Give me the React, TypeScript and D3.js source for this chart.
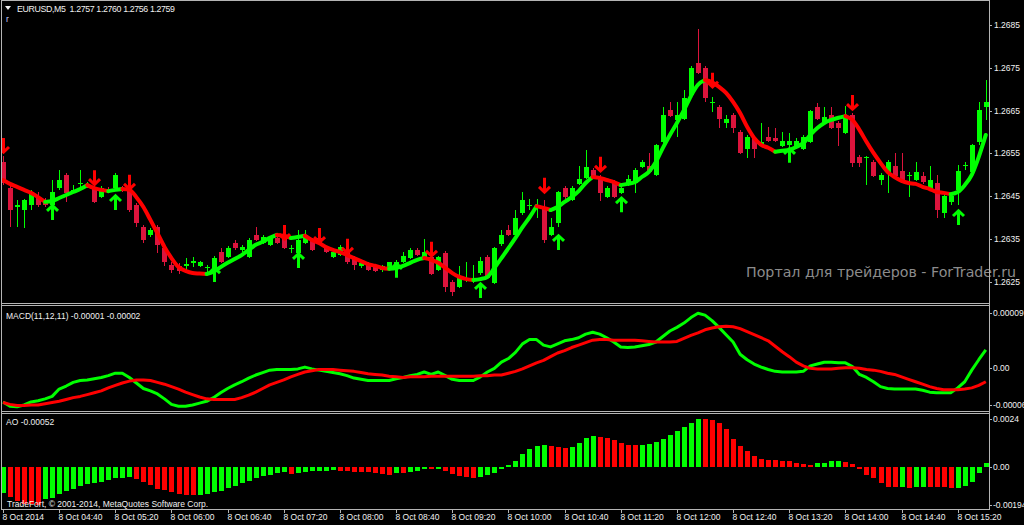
import React from 'react';
import * as d3 from 'd3';

// ---------- DATA (EURUSD M5, 8 Oct 2014, bars 04:00 .. 15:40) ----------
const OPEN = [1.26530,1.26469,1.26425,1.26418,1.26430,1.26448,1.26441,1.26430,1.26469,1.26500,
1.26460,1.26479,1.26474,1.26472,1.26448,1.26467,1.26469,1.26469,1.26469,1.26430,
1.26378,1.26360,1.26378,1.26329,1.26290,1.26288,1.26288,1.26295,1.26288,1.26284,
1.26274,1.26320,1.26309,1.26341,1.26325,1.26309,1.26360,1.26341,1.26337,1.26353,
1.26355,1.26328,1.26318,1.26341,1.26348,1.26353,1.26329,1.26309,1.26313,1.26320,
1.26306,1.26288,1.26290,1.26288,1.26278,1.26278,1.26283,1.26297,1.26306,1.26325,
1.26306,1.26309,1.26278,1.26318,1.26250,1.26239,1.26259,1.26257,1.26271,1.26309,
1.26248,1.26339,1.26371,1.26360,1.26411,1.26429,1.26429,1.26423,1.26360,1.26388,
1.26469,1.26441,1.26479,1.26493,1.26511,1.26495,1.26448,1.26483,1.26458,1.26476,
1.26481,1.26518,1.26521,1.26500,1.26577,1.26651,1.26628,1.26630,1.26686,1.26761,
1.26749,1.26669,1.26658,1.26621,1.26640,1.26600,1.26560,1.26586,1.26567,1.26588,
1.26586,1.26567,1.26570,1.26567,1.26560,1.26577,1.26658,1.26623,1.26640,1.26621,
1.26598,1.26640,1.26542,1.26539,1.26530,1.26488,1.26507,1.26521,1.26509,1.26499,
1.26488,1.26497,1.26467,1.26481,1.26411,1.26437,1.26465,1.26522,1.26507,1.26577,
1.26658];
const HIGH = [1.26544,1.26476,1.26441,1.26444,1.26465,1.26460,1.26446,1.26488,1.26511,1.26504,
1.26476,1.26511,1.26483,1.26481,1.26474,1.26472,1.26504,1.26474,1.26476,1.26434,
1.26383,1.26376,1.26383,1.26334,1.26297,1.26295,1.26306,1.26309,1.26299,1.26290,
1.26311,1.26329,1.26334,1.26348,1.26337,1.26353,1.26378,1.26360,1.26358,1.26358,
1.26360,1.26337,1.26371,1.26371,1.26353,1.26358,1.26334,1.26322,1.26337,1.26325,
1.26311,1.26302,1.26297,1.26292,1.26290,1.26297,1.26302,1.26320,1.26329,1.26329,
1.26351,1.26313,1.26311,1.26322,1.26255,1.26288,1.26297,1.26290,1.26309,1.26313,
1.26332,1.26371,1.26383,1.26418,1.26460,1.26444,1.26444,1.26441,1.26399,1.26462,
1.26474,1.26474,1.26521,1.26558,1.26516,1.26500,1.26474,1.26488,1.26474,1.26500,
1.26516,1.26535,1.26551,1.26572,1.26658,1.26670,1.26670,1.26698,1.26754,1.26840,
1.26754,1.26681,1.26663,1.26640,1.26644,1.26605,1.26593,1.26591,1.26621,1.26612,
1.26609,1.26600,1.26598,1.26586,1.26593,1.26651,1.26668,1.26658,1.26658,1.26625,
1.26661,1.26644,1.26546,1.26544,1.26535,1.26504,1.26535,1.26551,1.26551,1.26507,
1.26530,1.26507,1.26521,1.26500,1.26453,1.26460,1.26523,1.26530,1.26572,1.26670,
1.26721];
const LOW = [1.26476,1.26378,1.26378,1.26376,1.26418,1.26425,1.26425,1.26413,1.26465,1.26437,
1.26458,1.26472,1.26469,1.26434,1.26446,1.26460,1.26465,1.26460,1.26413,1.26378,
1.26341,1.26355,1.26318,1.26288,1.26271,1.26269,1.26278,1.26285,1.26285,1.26271,
1.26267,1.26295,1.26306,1.26325,1.26320,1.26306,1.26346,1.26339,1.26334,1.26339,
1.26327,1.26318,1.26316,1.26339,1.26322,1.26337,1.26318,1.26306,1.26311,1.26292,
1.26278,1.26283,1.26276,1.26274,1.26274,1.26276,1.26278,1.26295,1.26304,1.26311,
1.26302,1.26267,1.26276,1.26227,1.26218,1.26236,1.26250,1.26248,1.26267,1.26257,
1.26246,1.26334,1.26358,1.26358,1.26406,1.26418,1.26399,1.26341,1.26358,1.26378,
1.26434,1.26439,1.26476,1.26490,1.26493,1.26439,1.26446,1.26446,1.26455,1.26474,
1.26458,1.26516,1.26504,1.26497,1.26574,1.26635,1.26588,1.26628,1.26684,1.26735,
1.26670,1.26647,1.26609,1.26609,1.26598,1.26549,1.26539,1.26539,1.26565,1.26577,
1.26577,1.26565,1.26563,1.26563,1.26558,1.26574,1.26628,1.26621,1.26607,1.26567,
1.26595,1.26518,1.26518,1.26476,1.26495,1.26476,1.26458,1.26495,1.26481,1.26448,
1.26486,1.26479,1.26465,1.26399,1.26399,1.26430,1.26430,1.26511,1.26504,1.26570,
1.26628];
const CLOSE = [1.26481,1.26418,1.26430,1.26441,1.26460,1.26430,1.26430,1.26460,1.26488,1.26458,
1.26465,1.26481,1.26479,1.26437,1.26469,1.26462,1.26500,1.26465,1.26418,1.26388,
1.26348,1.26371,1.26337,1.26297,1.26278,1.26276,1.26292,1.26299,1.26297,1.26285,
1.26306,1.26297,1.26329,1.26329,1.26332,1.26348,1.26348,1.26355,1.26355,1.26341,
1.26329,1.26329,1.26348,1.26360,1.26325,1.26341,1.26320,1.26320,1.26332,1.26297,
1.26290,1.26295,1.26278,1.26276,1.26288,1.26297,1.26297,1.26311,1.26325,1.26313,
1.26320,1.26269,1.26309,1.26239,1.26227,1.26260,1.26260,1.26260,1.26299,1.26260,
1.26329,1.26360,1.26360,1.26399,1.26441,1.26430,1.26430,1.26348,1.26378,1.26460,
1.26448,1.26469,1.26490,1.26518,1.26495,1.26458,1.26469,1.26448,1.26469,1.26490,
1.26511,1.26530,1.26507,1.26570,1.26640,1.26637,1.26640,1.26679,1.26749,1.26737,
1.26679,1.26670,1.26630,1.26630,1.26609,1.26551,1.26588,1.26560,1.26577,1.26579,
1.26579,1.26579,1.26579,1.26579,1.26588,1.26649,1.26630,1.26635,1.26609,1.26609,
1.26640,1.26528,1.26528,1.26542,1.26497,1.26500,1.26530,1.26497,1.26483,1.26500,
1.26507,1.26483,1.26488,1.26418,1.26451,1.26451,1.26509,1.26523,1.26570,1.26651,
1.26670];
// trend moving average (colored by direction)
const TREND_MA = [1.26488,1.26479,1.26472,1.26465,1.26458,1.26448,1.26437,1.26439,1.26446,1.26453,
1.26460,1.26467,1.26476,1.26469,1.26465,1.26462,1.26465,1.26467,1.26465,1.26448,
1.26425,1.26395,1.26364,1.26332,1.26306,1.26285,1.26276,1.26271,1.26270,1.26269,
1.26274,1.26285,1.26295,1.26304,1.26313,1.26325,1.26337,1.26344,1.26353,1.26360,
1.26358,1.26353,1.26355,1.26358,1.26348,1.26341,1.26332,1.26325,1.26320,1.26313,
1.26306,1.26299,1.26292,1.26288,1.26283,1.26281,1.26283,1.26288,1.26295,1.26302,
1.26306,1.26302,1.26295,1.26283,1.26271,1.26262,1.26257,1.26255,1.26257,1.26262,
1.26283,1.26306,1.26329,1.26353,1.26378,1.26401,1.26427,1.26423,1.26418,1.26425,
1.26437,1.26448,1.26462,1.26481,1.26495,1.26493,1.26488,1.26483,1.26476,1.26479,
1.26483,1.26495,1.26507,1.26530,1.26563,1.26593,1.26621,1.26651,1.26684,1.26710,
1.26721,1.26716,1.26705,1.26691,1.26670,1.26644,1.26612,1.26586,1.26570,1.26563,
1.26554,1.26556,1.26558,1.26565,1.26574,1.26593,1.26609,1.26621,1.26628,1.26633,
1.26637,1.26628,1.26605,1.26577,1.26551,1.26528,1.26507,1.26495,1.26486,1.26481,
1.26479,1.26472,1.26467,1.26460,1.26458,1.26455,1.26460,1.26476,1.26500,1.26542,
1.26593];
const DOWN_ARROW_BARS = [0, 13, 18, 40, 45, 49, 61, 77, 85, 101, 121];
const DOWN_ARROW_PRICES = [1.26551, 1.26476, 1.26465, 1.26348, 1.26341, 1.26316, 1.26309, 1.26458, 1.26507, 1.26703, 1.26651];
const UP_ARROW_BARS = [7, 16, 30, 42, 56, 68, 79, 88, 112, 136];
const UP_ARROW_PRICES = [1.26430, 1.26453, 1.26285, 1.26318, 1.26295, 1.26248, 1.26360, 1.26448, 1.26563, 1.26418];

// MACD(11,12,11), values in units of 0.00001
const MACD_UNIT = 0.00001;
const MACD_MAIN = [-5.5,-6.2,-6.3,-6.0,-5.5,-5.3,-5.0,-4.6,-3.4,-2.9,
-2.3,-2.0,-1.9,-1.7,-1.5,-1.2,-0.8,-0.8,-1.5,-2.4,
-3.3,-3.7,-4.2,-5.0,-5.9,-6.2,-6.2,-6.0,-5.7,-5.4,
-4.8,-4.0,-3.3,-2.7,-2.2,-1.6,-1.1,-0.7,-0.3,-0.2,
-0.2,-0.2,-0.1,0.2,-0.1,-0.3,-0.5,-0.7,-0.9,-1.2,
-1.6,-1.8,-2.0,-2.0,-2.0,-2.0,-1.7,-1.5,-1.2,-1.0,
-0.6,-1.0,-0.6,-1.2,-1.8,-2.0,-2.0,-2.0,-1.4,-0.6,
0,1.0,1.6,2.6,4.0,4.7,4.7,3.8,3.5,4.0,
4.5,4.7,5.0,5.6,5.9,5.6,5.0,4.3,3.5,3.4,
3.5,3.7,3.9,4.3,5.2,6.1,6.7,7.4,8.3,9.0,
8.7,7.8,6.7,5.5,4.3,2.3,1.4,0.7,0.2,-0.2,
-0.5,-0.6,-0.6,-0.6,-0.5,0.4,0.7,1.0,1.0,0.9,
0.9,0.3,-1.0,-1.5,-2.2,-3.0,-3.3,-3.4,-3.4,-3.4,
-3.4,-3.6,-3.9,-4.0,-4.0,-4.0,-3.2,-2.2,-0.3,1.4,
3.0];
const MACD_SIGNAL = [-5.6,-5.9,-6.1,-6.1,-6.0,-6.0,-5.8,-5.6,-5.4,-5.1,
-4.8,-4.6,-4.3,-4.0,-3.7,-3.2,-2.8,-2.4,-2.1,-1.9,
-1.9,-2.0,-2.3,-2.6,-3.0,-3.4,-3.9,-4.3,-4.7,-5.0,
-5.1,-5.1,-5.1,-5.1,-4.8,-4.4,-3.9,-3.3,-2.7,-2.3,
-1.9,-1.4,-1.0,-0.6,-0.4,-0.2,-0.2,-0.2,-0.3,-0.4,
-0.5,-0.7,-0.9,-1.0,-1.1,-1.3,-1.4,-1.5,-1.4,-1.4,
-1.4,-1.3,-1.3,-1.3,-1.3,-1.3,-1.3,-1.3,-1.2,-1.2,
-1.1,-1.1,-0.8,-0.5,-0.1,0.4,0.9,1.3,1.9,2.5,
2.9,3.4,3.8,4.2,4.6,4.7,4.7,4.6,4.6,4.6,
4.6,4.5,4.4,4.3,4.3,4.3,4.4,4.9,5.4,5.8,
6.3,6.6,6.8,6.9,6.8,6.5,6.0,5.5,5.0,4.5,
3.6,2.7,1.9,1.0,0.4,0,-0.1,-0.1,-0.1,0,
0.1,0.1,0,-0.2,-0.3,-0.5,-0.8,-1.0,-1.4,-1.8,
-2.2,-2.6,-3.0,-3.3,-3.5,-3.5,-3.5,-3.4,-3.2,-2.8,
-2.2];

// Awesome Oscillator, values in units of 0.0001
const AO_UNIT = 0.0001;
const AO_VALUES = [-13.0,-15.1,-17.5,-18.8,-18.8,-19.4,-16.0,-15.6,-13.5,-12.4,
-11.1,-9.9,-8.7,-8.3,-7.6,-6.7,-5.9,-5.6,-5.1,-6.4,
-7.6,-9.2,-11.1,-11.6,-12.7,-13.5,-14.0,-14.3,-14.2,-13.5,
-12.7,-12.0,-10.6,-9.5,-8.3,-7.1,-5.6,-4.5,-4.0,-3.2,
-2.9,-3.5,-3.2,-2.7,-2.4,-2.2,-2.1,-1.6,-2.1,-2.4,
-2.5,-2.7,-2.9,-3.2,-3.5,-4.0,-3.2,-3.35,-2.5,-2.2,
-1.34,-1.4,-1.3,-2.0,-3.7,-4.5,-5.4,-5.9,-5.4,-4.4,
-3.35,-1.34,0.67,3.0,6.2,8.7,10.4,11.1,10.6,10.1,
9.5,10.1,11.7,14.4,15.4,14.9,14.4,13.4,11.9,10.9,
10.8,10.9,11.4,12.2,13.9,16.2,17.9,19.8,21.8,24.1,
23.8,23.7,21.8,18.8,13.9,10.6,7.7,5.5,3.9,3.35,
3.3,2.85,2.8,2.0,1.2,0.67,1.7,2.0,2.85,2.9,
2.3,1.2,-1.34,-4.2,-5.9,-8.4,-10.1,-10.4,-10.3,-10.6,
-10.1,-10.0,-10.1,-10.2,-10.4,-10.6,-10.5,-9.7,-7.5,-3.35,
2.0];

const PRICE_TICKS = [1.2685, 1.2675, 1.2665, 1.2655, 1.2645, 1.2635, 1.2625];
const MACD_TICKS = [0.00009, 0, -0.00006];
const MACD_TICK_LABELS = ['0.00009', '0.00', '-0.00006'];
const AO_TICKS = [0.0024, 0, -0.00194];
const AO_TICK_LABELS = ['0.0024', '0.00', '-0.00194'];
const TIME_TICK_BARS = [0, 8, 16, 24, 32, 40, 48, 56, 64, 72, 80, 88, 96, 104, 112, 120, 128, 136];
const TIME_TICK_LABELS = ['8 Oct 2014', '8 Oct 04:40', '8 Oct 05:20', '8 Oct 06:00', '8 Oct 06:40', '8 Oct 07:20',
  '8 Oct 08:00', '8 Oct 08:40', '8 Oct 09:20', '8 Oct 10:00', '8 Oct 10:40', '8 Oct 11:20', '8 Oct 12:00',
  '8 Oct 12:40', '8 Oct 13:20', '8 Oct 14:00', '8 Oct 14:40', '8 Oct 15:20'];

const HEADER = 'EURUSD,M5  1.2757 1.2760 1.2756 1.2759';
const MACD_LABEL = 'MACD(11,12,11) -0.00001 -0.00002';
const AO_LABEL = 'AO -0.00052';
const COPYRIGHT = 'TradeFort, © 2001-2014, MetaQuotes Software Corp.';
const WATERMARK = 'Портал для трейдеров - ForTrader.ru';

const GREEN = '#00ff00';
const RED = '#ff0000';
const BEAR = '#dc143c';
const FRAME = '#b4b4b4';
const TEXT = '#f0f0f0';
const FONT = '"Liberation Sans", Arial, sans-serif';

export default function App() {
  const W = 1024, H = 525;
  const AXIS_X = 989;
  const n = CLOSE.length;
  const x = d3.scaleLinear().domain([0, n - 1]).range([3, 3 + (n - 1) * 7.02]);
  const yP = d3.scaleLinear().domain([1.2625, 1.2685]).range([282.1, 24.7]);
  const yM = d3.scaleLinear().domain([0, 0.00009]).range([368.3, 313.3]);
  const yA = d3.scaleLinear().domain([0, 0.0024]).range([466.7, 419]);

  // trend MA colored runs
  const maColor = TREND_MA.map((v, i) => (i === 0 ? RED : v >= TREND_MA[i - 1] ? GREEN : RED));
  const runs: { color: string; idx: number[] }[] = [];
  for (let i = 1; i < n; i++) {
    const c = maColor[i];
    const last = runs[runs.length - 1];
    if (last && last.color === c) last.idx.push(i);
    else runs.push({ color: c, idx: [i - 1, i] });
  }
  const maLine = d3.line<number>().x(i => x(i)).y(i => yP(TREND_MA[i])).curve(d3.curveMonotoneX);

  const macdLine = (arr: number[]) =>
    d3.line<number>().x((_, i) => x(i)).y(v => yM(v * MACD_UNIT))(arr) || '';

  const upArrow = (cx: number, tip: number) =>
    `M${cx},${tip + 15}L${cx},${tip + 1}M${cx - 5.5},${tip + 6}L${cx},${tip + 0.8}L${cx + 5.5},${tip + 6}`;
  const downArrow = (cx: number, tip: number) =>
    `M${cx},${tip - 15}L${cx},${tip - 1}M${cx - 5.5},${tip - 6}L${cx},${tip - 0.8}L${cx + 5.5},${tip - 6}`;

  const bars = d3.range(n);

  return (
    <div style={{ position: 'absolute', left: 0, top: 0, width: W, height: H, background: '#000' }}>
      <svg width={W} height={H} style={{ display: 'block', background: '#000' }} fontFamily={FONT}>
        <defs>
          <clipPath id="clipMain"><rect x={2} y={1} width={AXIS_X - 2} height={302} /></clipPath>
          <clipPath id="clipMacd"><rect x={2} y={306} width={AXIS_X - 2} height={105} /></clipPath>
          <clipPath id="clipAo"><rect x={2} y={414} width={AXIS_X - 2} height={95} /></clipPath>
        </defs>

        {/* watermark */}
        <text x={746} y={277} fontSize={14.5} fill="#8c8c8c" textLength={270} lengthAdjust="spacingAndGlyphs"
          fontFamily='"DejaVu Sans", sans-serif'>{WATERMARK}</text>

        {/* main panel */}
        <g clipPath="url(#clipMain)">
          {bars.map(i => {
            const bull = CLOSE[i] >= OPEN[i];
            const col = bull ? GREEN : BEAR;
            const cx = Math.round(x(i));
            const yo = yP(OPEN[i]), yc = yP(CLOSE[i]);
            const top = Math.min(yo, yc);
            const h = Math.max(1, Math.abs(yo - yc));
            return (
              <g key={'c' + i} shapeRendering="crispEdges">
                <line x1={cx + 0.5} x2={cx + 0.5} y1={yP(HIGH[i])} y2={yP(LOW[i])} stroke={col} strokeWidth={1} />
                <rect x={cx - 2} y={top} width={5} height={h} fill={col} />
              </g>
            );
          })}
          {runs.map((r, k) => (
            <path key={'ma' + k} d={maLine(r.idx) || ''} fill="none" stroke={r.color} strokeWidth={4}
              strokeLinejoin="round" strokeLinecap="round" />
          ))}
          {UP_ARROW_BARS.map((b, k) => (
            <path key={'ua' + k} d={upArrow(Math.round(x(b)) + 0.5, yP(UP_ARROW_PRICES[k]))} fill="none"
              stroke={GREEN} strokeWidth={3} />
          ))}
          {DOWN_ARROW_BARS.map((b, k) => (
            <path key={'da' + k} d={downArrow(Math.round(x(b)) + 0.5, yP(DOWN_ARROW_PRICES[k]))} fill="none"
              stroke={RED} strokeWidth={3} />
          ))}
        </g>

        {/* MACD panel */}
        <g clipPath="url(#clipMacd)">
          <path d={macdLine(MACD_MAIN)} fill="none" stroke={GREEN} strokeWidth={3} strokeLinejoin="round" />
          <path d={macdLine(MACD_SIGNAL)} fill="none" stroke={RED} strokeWidth={3} strokeLinejoin="round" />
        </g>

        {/* AO panel */}
        <g clipPath="url(#clipAo)" shapeRendering="crispEdges">
          {AO_VALUES.map((v, i) => {
            const up = i === 0 || v > AO_VALUES[i - 1];
            const y0 = yA(0), y1 = yA(v * AO_UNIT);
            return (
              <rect key={'ao' + i} x={Math.round(x(i)) - 2} y={Math.min(y0, y1)} width={5}
                height={Math.max(1, Math.abs(y1 - y0))} fill={up ? GREEN : RED} />
            );
          })}
        </g>

        {/* frames */}
        <g stroke={FRAME} strokeWidth={1} shapeRendering="crispEdges" fill="none">
          <line x1={2} x2={AXIS_X} y1={0.5} y2={0.5} />
          <line x1={1.5} x2={1.5} y1={0} y2={510} />
          <line x1={AXIS_X + 0.5} x2={AXIS_X + 0.5} y1={0} y2={510} />
          <line x1={2} x2={AXIS_X} y1={303.5} y2={303.5} />
          <line x1={2} x2={AXIS_X} y1={305.5} y2={305.5} />
          <line x1={2} x2={AXIS_X} y1={411.5} y2={411.5} />
          <line x1={2} x2={AXIS_X} y1={413.5} y2={413.5} />
          <line x1={2} x2={AXIS_X} y1={509.5} y2={509.5} />
        </g>

        {/* price axis */}
        {PRICE_TICKS.map((v, k) => (
          <g key={'pt' + k}>
            <line x1={AXIS_X} x2={AXIS_X + 3} y1={Math.round(yP(v)) + 0.5} y2={Math.round(yP(v)) + 0.5} stroke={FRAME} />
            <text x={994} y={yP(v) + 3} fontSize={8.5} fill={TEXT}>{v.toFixed(4)}</text>
          </g>
        ))}
        {MACD_TICKS.map((v, k) => (
          <g key={'mt' + k}>
            <line x1={AXIS_X} x2={AXIS_X + 3} y1={Math.round(yM(v)) + 0.5} y2={Math.round(yM(v)) + 0.5} stroke={FRAME} />
            <text x={993} y={yM(v) + 3} fontSize={8.5} fill={TEXT}>{MACD_TICK_LABELS[k]}</text>
          </g>
        ))}
        {AO_TICKS.map((v, k) => (
          <g key={'at' + k}>
            <line x1={AXIS_X} x2={AXIS_X + 3} y1={Math.round(yA(v)) + 0.5} y2={Math.round(yA(v)) + 0.5} stroke={FRAME} />
            <text x={993} y={yA(v) + 3} fontSize={8.5} fill={TEXT}>{AO_TICK_LABELS[k]}</text>
          </g>
        ))}

        {/* time axis */}
        {TIME_TICK_BARS.map((b, k) => {
          const tx = Math.round(x(b)) + 0.5;
          return (
            <g key={'tt' + k}>
              <line x1={tx} x2={tx} y1={509} y2={513} stroke={FRAME} />
              <text x={tx - 1} y={520} fontSize={8.5} fill={TEXT}>{TIME_TICK_LABELS[k]}</text>
            </g>
          );
        })}

        {/* labels */}
        <polygon points="5,6 11,6 8,10" fill={TEXT} />
        <text x={17} y={12} fontSize={8.8} fill={TEXT} textLength={158} lengthAdjust="spacing"
          style={{ whiteSpace: 'pre' }}>{HEADER}</text>
        <text x={6} y={22} fontSize={8.5} fill="#c8d0ff">r</text>
        <text x={6} y={318.5} fontSize={8.5} fill={TEXT}>{MACD_LABEL}</text>
        <text x={6} y={425} fontSize={8.5} fill={TEXT}>{AO_LABEL}</text>
        <text x={7} y={506.5} fontSize={8.5} fill={TEXT}>{COPYRIGHT}</text>
      </svg>
    </div>
  );
}
